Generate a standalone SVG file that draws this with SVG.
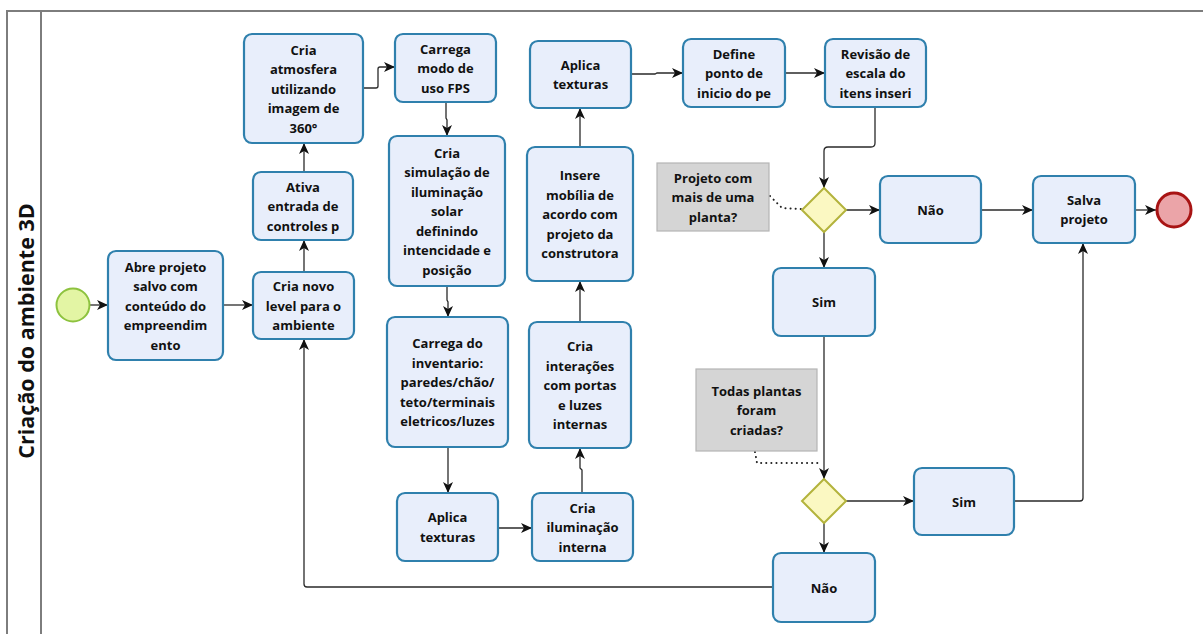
<svg xmlns="http://www.w3.org/2000/svg" width="1203" height="634" viewBox="0 0 1203 634">
  <defs>
    <style>
      .task rect { fill: #e8eefb; stroke: #2f80ad; stroke-width: 2.2; }
      .task text, .note text { font-family: "Open Sans", "Liberation Sans", sans-serif; font-weight: bold; font-size: 13px; fill: #111; text-anchor: middle; dominant-baseline: central; }
      .gw polygon { fill: #fbf8c2; stroke: #b3b33c; stroke-width: 2; }
      .note rect { fill: #d5d5d5; stroke: #b5b5b5; stroke-width: 1.2; }
      .flow { fill: none; stroke: #2a2a2a; stroke-width: 1.3; marker-end: url(#arrow); }
      .assoc { fill: none; stroke: #222; stroke-width: 2; stroke-dasharray: 0.1 5; stroke-linecap: round; }
      .pool { stroke: #7d7d7d; stroke-width: 2; fill: none; }
      .lane-title { font-family: "Open Sans", "Liberation Sans", sans-serif; font-weight: bold; font-size: 21.5px; fill: #111; text-anchor: middle; dominant-baseline: central; }
    </style>
    <marker id="arrow" markerUnits="userSpaceOnUse" markerWidth="12" markerHeight="10" refX="11" refY="5" orient="auto">
      <path d="M0,0 L11,5 L0,10 L3,5 z" fill="#111"/>
    </marker>
  </defs>

  <rect x="0" y="0" width="1203" height="634" fill="#ffffff"/>

  <!-- pool and lane header -->
  <g id="pool">
    <path class="pool" d="M7,634 V11 H1203"/>
    <path class="pool" d="M41,11 V634"/>
    <text class="lane-title" transform="translate(25,331) rotate(-90)">Criação do ambiente 3D</text>
  </g>

  <!-- sequence flows and associations -->
  <g id="connectors">
    <path class="flow" d="M90,305 H108"/>
    <path class="flow" d="M223,305 H253"/>
    <path class="flow" d="M304,272 V240"/>
    <path class="flow" d="M304,172 V143"/>
    <path class="flow" d="M363,88 H376 Q378,88 378,86 V69 Q378,67 380,67 H395"/>
    <path class="flow" d="M446,102 V118 L447,120 V136"/>
    <path class="flow" d="M447,286 V300 L448,302 V317"/>
    <path class="flow" d="M448,447 V493"/>
    <path class="flow" d="M498,528 H532"/>
    <path class="flow" d="M582,493 V470 L580,468 V448"/>
    <path class="flow" d="M580,322 V281"/>
    <path class="flow" d="M580,147 V108"/>
    <path class="flow" d="M631,74 H655 L657,73 H683"/>
    <path class="flow" d="M785,73 H825"/>
    <path class="flow" d="M875,107 V143 Q875,147 871,147 H828 Q824,147 824,151 V188"/>
    <path class="flow" d="M846,210 H880"/>
    <path class="flow" d="M981,210 H1033"/>
    <path class="flow" d="M1135,210 H1156"/>
    <path class="flow" d="M824,232 V268"/>
    <path class="flow" d="M824,336 V479"/>
    <path class="flow" d="M846,501 H914"/>
    <path class="flow" d="M1014,501 H1080 Q1083,501 1083,498 V243"/>
    <path class="flow" d="M824,523 V553"/>
    <path class="flow" d="M773,587 H307 Q304,587 304,584 V339"/>
    <path class="assoc" d="M770,196 L782,208 L801,209"/>
    <path class="assoc" d="M755,452 L757,463 H818"/>
  </g>

  <!-- events -->
  <g id="start">
    <circle cx="73" cy="305" r="16.5" fill="#e3f5a4" stroke="#8dc23e" stroke-width="2"/>
  </g>
  <g id="end">
    <circle cx="1174" cy="210" r="17" fill="#eba4a8" stroke="#a81414" stroke-width="3"/>
  </g>

  <!-- tasks -->
  <g id="abre-projeto" class="task">
    <rect x="108" y="251" width="115" height="109" rx="8"/>
    <text x="165.5" y="266.5">Abre projeto</text>
    <text x="165.5" y="286">salvo com</text>
    <text x="165.5" y="305.5">conteúdo do</text>
    <text x="165.5" y="325">empreendim</text>
    <text x="165.5" y="344.5">ento</text>
  </g>
  <g id="cria-level" class="task">
    <rect x="253" y="272" width="101" height="67" rx="8"/>
    <text x="303.5" y="286">Cria novo</text>
    <text x="303.5" y="305.5">level para o</text>
    <text x="303.5" y="325">ambiente</text>
  </g>
  <g id="ativa-controles" class="task">
    <rect x="253" y="172" width="100" height="68" rx="8"/>
    <text x="303" y="186.5">Ativa</text>
    <text x="303" y="206">entrada de</text>
    <text x="303" y="225.5">controles p</text>
  </g>
  <g id="cria-atmosfera" class="task">
    <rect x="244" y="34" width="119" height="109" rx="8"/>
    <text x="303.5" y="49.5">Cria</text>
    <text x="303.5" y="69">atmosfera</text>
    <text x="303.5" y="88.5">utilizando</text>
    <text x="303.5" y="108">imagem de</text>
    <text x="303.5" y="127.5">360°</text>
  </g>
  <g id="carrega-fps" class="task">
    <rect x="395" y="34" width="101" height="68" rx="8"/>
    <text x="445.5" y="48.5">Carrega</text>
    <text x="445.5" y="68">modo de</text>
    <text x="445.5" y="87.5">uso FPS</text>
  </g>
  <g id="simulacao-solar" class="task">
    <rect x="389" y="136" width="116" height="150" rx="8"/>
    <text x="447" y="152.5">Cria</text>
    <text x="447" y="172">simulação de</text>
    <text x="447" y="191.5">iluminação</text>
    <text x="447" y="211">solar</text>
    <text x="447" y="230.5">definindo</text>
    <text x="447" y="250">intencidade e</text>
    <text x="447" y="269.5">posição</text>
  </g>
  <g id="carrega-inventario" class="task">
    <rect x="387" y="317" width="121" height="130" rx="8"/>
    <text x="447.5" y="343">Carrega do</text>
    <text x="447.5" y="362.5">inventario:</text>
    <text x="447.5" y="382">paredes/chão/</text>
    <text x="447.5" y="401.5">teto/terminais</text>
    <text x="447.5" y="421">eletricos/luzes</text>
  </g>
  <g id="aplica-texturas-1" class="task">
    <rect x="397" y="493" width="101" height="68" rx="8"/>
    <text x="447.5" y="517.25">Aplica</text>
    <text x="447.5" y="536.75">texturas</text>
  </g>
  <g id="iluminacao-interna" class="task">
    <rect x="532" y="493" width="101" height="68" rx="8"/>
    <text x="582.5" y="507.5">Cria</text>
    <text x="582.5" y="527">iluminação</text>
    <text x="582.5" y="546.5">interna</text>
  </g>
  <g id="interacoes" class="task">
    <rect x="529" y="322" width="102" height="126" rx="8"/>
    <text x="580" y="346">Cria</text>
    <text x="580" y="365.5">interações</text>
    <text x="580" y="385">com portas</text>
    <text x="580" y="404.5">e luzes</text>
    <text x="580" y="424">internas</text>
  </g>
  <g id="insere-mobilia" class="task">
    <rect x="527" y="147" width="106" height="134" rx="8"/>
    <text x="580" y="175">Insere</text>
    <text x="580" y="194.5">mobília de</text>
    <text x="580" y="214">acordo com</text>
    <text x="580" y="233.5">projeto da</text>
    <text x="580" y="253">construtora</text>
  </g>
  <g id="aplica-texturas-2" class="task">
    <rect x="530" y="41" width="101" height="67" rx="8"/>
    <text x="580.5" y="64.75">Aplica</text>
    <text x="580.5" y="84.25">texturas</text>
  </g>
  <g id="define-ponto" class="task">
    <rect x="683" y="39" width="102" height="68" rx="8"/>
    <text x="734" y="53.5">Define</text>
    <text x="734" y="73">ponto de</text>
    <text x="734" y="92.5">inicio do pe</text>
  </g>
  <g id="revisao-escala" class="task">
    <rect x="825" y="39" width="101" height="68" rx="8"/>
    <text x="875.5" y="53.5">Revisão de</text>
    <text x="875.5" y="73">escala do</text>
    <text x="875.5" y="92.5">itens inseri</text>
  </g>
  <g id="nao-1" class="task">
    <rect x="880" y="176" width="101" height="67" rx="8"/>
    <text x="930.5" y="209.5">Não</text>
  </g>
  <g id="salva-projeto" class="task">
    <rect x="1033" y="176" width="102" height="67" rx="8"/>
    <text x="1084" y="199.75">Salva</text>
    <text x="1084" y="219.25">projeto</text>
  </g>
  <g id="sim-1" class="task">
    <rect x="773" y="268" width="102" height="68" rx="8"/>
    <text x="824" y="302">Sim</text>
  </g>
  <g id="sim-2" class="task">
    <rect x="914" y="468" width="100" height="67" rx="8"/>
    <text x="964" y="501.5">Sim</text>
  </g>
  <g id="nao-2" class="task">
    <rect x="773" y="553" width="102" height="69" rx="8"/>
    <text x="824" y="587.5">Não</text>
  </g>

  <!-- gateways -->
  <g id="gateway-plantas" class="gw">
    <polygon points="824,188 846,210 824,232 802,210"/>
  </g>
  <g id="gateway-todas" class="gw">
    <polygon points="824,479 846,501 824,523 802,501"/>
  </g>

  <!-- text annotations -->
  <g id="nota-plantas" class="note">
    <rect x="657" y="163" width="112" height="68"/>
    <text x="713" y="177.5">Projeto com</text>
    <text x="713" y="197">mais de uma</text>
    <text x="713" y="216.5">planta?</text>
  </g>
  <g id="nota-criadas" class="note">
    <rect x="696" y="369" width="121" height="82"/>
    <text x="756.5" y="390.5">Todas plantas</text>
    <text x="756.5" y="410">foram</text>
    <text x="756.5" y="429.5">criadas?</text>
  </g>
</svg>
